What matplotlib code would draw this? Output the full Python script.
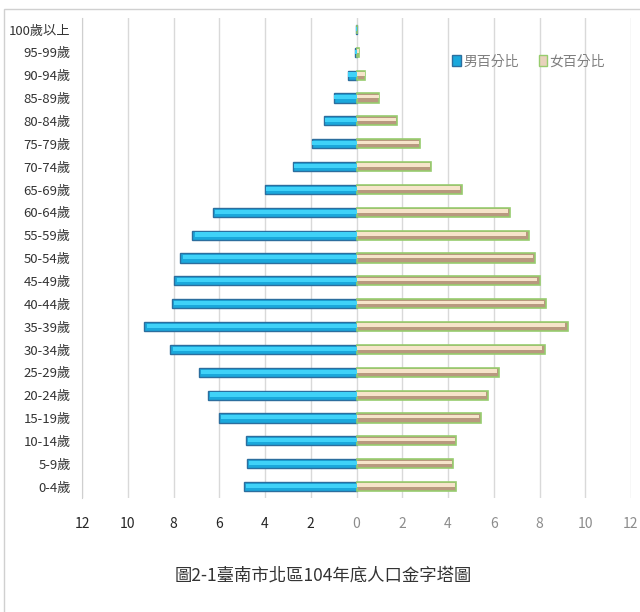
import matplotlib
matplotlib.use("Agg")
import matplotlib.pyplot as plt
from matplotlib.patches import Rectangle, Patch
import numpy as np

plt.rcParams['font.family'] = ['Noto Sans CJK TC', 'DejaVu Sans']

categories = ["100歲以上", "95-99歲", "90-94歲", "85-89歲", "80-84歲", "75-79歲",
              "70-74歲", "65-69歲", "60-64歲", "55-59歲", "50-54歲", "45-49歲",
              "40-44歲", "35-39歲", "30-34歲", "25-29歲", "20-24歲", "15-19歲",
              "10-14歲", "5-9歲", "0-4歲"]
male = [0.03, 0.08, 0.36, 1.0, 1.42, 1.96, 2.77, 4.0, 6.28, 7.18, 7.7, 7.98,
        8.08, 9.28, 8.15, 6.9, 6.5, 6.03, 4.82, 4.79, 4.9]
female = [0.03, 0.1, 0.38, 0.98, 1.75, 2.79, 3.24, 4.6, 6.72, 7.53, 7.82, 8.02,
          8.3, 9.25, 8.23, 6.22, 5.73, 5.44, 4.35, 4.23, 4.35]
xticks = [-12, -10, -8, -6, -4, -2, 0, 2, 4, 6, 8, 10, 12]
legend_labels = ["男百分比", "女百分比"]
title = "圖2-1臺南市北區104年底人口金字塔圖"

fig = plt.figure(figsize=(6.4, 6.12), dpi=100)
fig.patch.set_facecolor('white')
# outer frame
fig.patches.append(Rectangle((4/640, -0.01), 1.0, 1 - 9/612 + 0.01,
                             transform=fig.transFigure, fill=False,
                             edgecolor='#D0D0D0', linewidth=1.0))

ax = fig.add_axes([82/640, 1 - 498/612, (631 - 82)/640, (498 - 18)/612])
y = np.arange(len(categories))
mneg = -np.array(male)
fem = np.array(female)
h = 0.4
ax.barh(y, mneg, height=h, color='#1AA8DC', edgecolor='#2C6E9E', linewidth=1.0, zorder=3)
ax.barh(y - 0.03, mneg * 0.985, height=h * 0.45, color='#3FD2F8', linewidth=0, zorder=4)
ax.barh(y, fem, height=h, color='#B8997F', edgecolor='#97CC6E', linewidth=1.2, zorder=3)
ax.barh(y - 0.06, fem * 0.985, height=h * 0.4, color='#F6E4CA', linewidth=0, zorder=4)

ax.set_ylim(len(categories) - 0.5, -0.5)
ax.set_xlim(-12, 12)
ax.set_xticks(xticks)
ax.set_xticklabels([str(abs(v)) for v in xticks], fontsize=10)
for v, lab in zip(xticks, ax.get_xticklabels()):
    lab.set_color('#262626' if v < 0 else '#8C8C8C')
ax.set_yticks(y)
ax.set_yticklabels(categories, fontsize=9.5, color='#333333')
ax.tick_params(axis='both', length=0)
ax.tick_params(axis='x', pad=14)
ax.tick_params(axis='y', pad=8)
ax.grid(axis='x', color='#D9D9D9', linewidth=1.0, zorder=0)
ax.set_axisbelow(True)
for s in ['top', 'right', 'bottom']:
    ax.spines[s].set_visible(False)
ax.spines['left'].set_color('#CFCFCF')

handles = [Patch(facecolor='#1AA8DC', edgecolor='#2C6E9E'),
           Patch(facecolor='#E8D2BC', edgecolor='#97CC6E')]
leg = ax.legend(handles, legend_labels, loc='upper left', bbox_to_anchor=(0.652, 0.95),
                ncol=2, frameon=False, fontsize=10, handlelength=0.6, handleheight=0.8,
                handletextpad=0.2, columnspacing=1.4, labelcolor='#7F7F7F')

fig.text(323/640, 1 - 575/612, title, ha='center', va='center', fontsize=12.5,
         color='#333333')

fig.savefig('out.png', dpi=100)
